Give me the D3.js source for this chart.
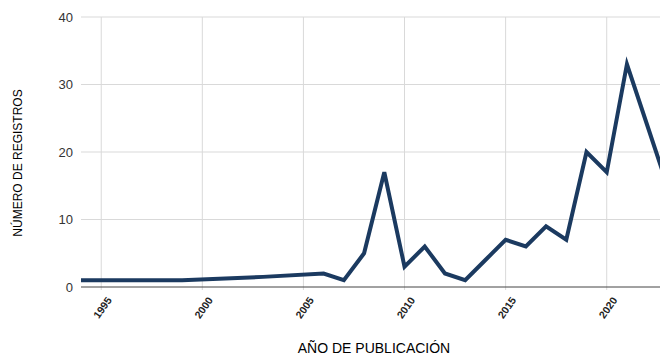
<!DOCTYPE html>
<html>
<head>
<meta charset="utf-8">
<script src="https://cdn.jsdelivr.net/npm/d3@7"></script>
<style>
  body { margin: 0; background: #fff; }
  text { font-family: "Liberation Sans", Arial, sans-serif; }
</style>
</head>
<body>
<svg id="chart" width="660" height="355"></svg>
<script>
// Data
var years  = [1994, 1999, 2003, 2006, 2007, 2008, 2009, 2010, 2011, 2012, 2013, 2014, 2015, 2016, 2017, 2018, 2019, 2020, 2021, 2022, 2023];
var counts = [1,    1,    1.5,  2,    1,    5,    17,   3,    6,    2,    1,    4,    7,    6,    9,    7,    20,   17,   33,   24,   15];
var xTicks = [1995, 2000, 2005, 2010, 2015, 2020];
var yTicks = [0, 10, 20, 30, 40];

var svg = d3.select("#chart");

// scales
var x = d3.scaleLinear().domain([1994, 2023]).range([81, 81 + 29 * 20.22]);
var y = d3.scaleLinear().domain([0, 40]).range([287, 17]);

// horizontal grid
svg.append("g")
  .selectAll("line")
  .data(yTicks.filter(function(d) { return d > 0; }))
  .enter().append("line")
    .attr("x1", 81).attr("x2", 660)
    .attr("y1", function(d) { return y(d); })
    .attr("y2", function(d) { return y(d); })
    .attr("stroke", "#d9d9d9").attr("stroke-width", 1);

// vertical grid
svg.append("g")
  .selectAll("line")
  .data(xTicks)
  .enter().append("line")
    .attr("x1", function(d) { return x(d); })
    .attr("x2", function(d) { return x(d); })
    .attr("y1", 17).attr("y2", 290)
    .attr("stroke", "#d9d9d9").attr("stroke-width", 1);

// baseline
svg.append("line")
  .attr("x1", 81).attr("x2", 660)
  .attr("y1", y(0)).attr("y2", y(0))
  .attr("stroke", "#444").attr("stroke-width", 1);

// y tick labels
svg.append("g")
  .selectAll("text")
  .data(yTicks)
  .enter().append("text")
    .attr("x", 73)
    .attr("y", function(d) { return y(d); })
    .attr("dy", "0.35em")
    .attr("text-anchor", "end")
    .style("font-size", "13px")
    .attr("fill", "#333")
    .text(function(d) { return d; });

// x tick labels, rotated
svg.append("g")
  .selectAll("text")
  .data(xTicks)
  .enter().append("text")
    .attr("transform", function(d) { return "translate(" + (x(d) + 5) + ",296) rotate(-55)"; })
    .attr("text-anchor", "end")
    .attr("dy", "0.7em")
    .style("font-size", "10.5px")
    .style("font-weight", "bold")
    .attr("fill", "#222")
    .text(function(d) { return d; });

// the line
var line = d3.line()
  .x(function(d, i) { return x(years[i]); })
  .y(function(d) { return y(d); });

svg.append("path")
  .datum(counts)
  .attr("d", line)
  .attr("fill", "none")
  .attr("stroke", "#1b3a60")
  .attr("stroke-width", 4)
  .attr("stroke-linejoin", "miter");

// axis titles
svg.append("text")
  .attr("x", 374).attr("y", 353)
  .attr("text-anchor", "middle")
  .style("font-size", "14px")
  .attr("fill", "#000")
  .text("AÑO DE PUBLICACIÓN");

svg.append("text")
  .attr("transform", "translate(22,163) rotate(-90)")
  .attr("text-anchor", "middle")
  .style("font-size", "12px")
  .attr("fill", "#000")
  .text("NÚMERO DE REGISTROS");
</script>
</body>
</html>
